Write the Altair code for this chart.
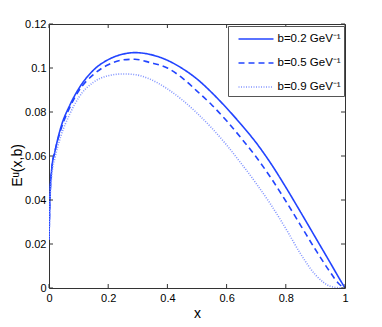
import altair as alt
import pandas as pd

# ---- data ----
x_vals = [0.0, 0.003, 0.01, 0.02, 0.04, 0.07, 0.10, 0.15, 0.20, 0.25, 0.29, 0.34,
          0.40, 0.45, 0.50, 0.55, 0.60, 0.65, 0.70, 0.75, 0.80, 0.85, 0.90, 0.95,
          0.98, 1.00]
e_b02 = [0.022, 0.040, 0.055, 0.062, 0.073, 0.083, 0.0905, 0.099, 0.1038, 0.1063,
         0.1070, 0.1062, 0.1035, 0.0998, 0.0950, 0.0888, 0.0818, 0.0742, 0.0660,
         0.0565, 0.0458, 0.0345, 0.0230, 0.0115, 0.0045, 0.0]
e_b05 = [0.022, 0.040, 0.055, 0.062, 0.072, 0.082, 0.0895, 0.0970, 0.1015, 0.1037,
         0.1040, 0.1025, 0.1000, 0.0955, 0.0895, 0.0832, 0.0760, 0.0680, 0.0595,
         0.0500, 0.0395, 0.0285, 0.0175, 0.0072, 0.0018, 0.0]
e_b09 = [0.022, 0.038, 0.052, 0.059, 0.069, 0.079, 0.0865, 0.0935, 0.0965, 0.0973,
         0.0970, 0.0950, 0.0905, 0.0855, 0.0795, 0.0727, 0.0650, 0.0565, 0.0475,
         0.0378, 0.0270, 0.0155, 0.0060, 0.0008, 0.0001, 0.0]
series_labels = ["b=0.2 GeV\u207b\u00b9", "b=0.5 GeV\u207b\u00b9", "b=0.9 GeV\u207b\u00b9"]
x_ticks = [0, 0.2, 0.4, 0.6, 0.8, 1.0]
y_ticks = [0, 0.02, 0.04, 0.06, 0.08, 0.10, 0.12]

rows = []
for lab, ys_ in zip(series_labels, [e_b02, e_b05, e_b09]):
    for xv, yv in zip(x_vals, ys_):
        rows.append({"x": xv, "E": yv, "series": lab})
df = pd.DataFrame(rows)

W, H = 296, 264
FONT = "Liberation Sans"
FRAME = "#333333"
xs = alt.Scale(domain=[0, 1], nice=False, zero=False)
ys = alt.Scale(domain=[0, 0.12], nice=False, zero=False)

leg = dict(orient="none", legendX=179, legendY=2, title=None, padding=3,
           fillColor="white", strokeColor="#555555", symbolType="M-2,0H2",
           symbolSize=306, symbolStrokeWidth=1.6, symbolOffset=15, labelFont=FONT,
           labelFontSize=11.5, labelColor="black", labelOffset=11.5, rowPadding=8)

x_axis = alt.Axis(
    values=x_ticks, labelExpr="format(datum.value, '.1~f')", title="x", ticks=False,
    domain=False, grid=False, labelFlush=False, labelFont=FONT, labelFontSize=11,
    labelColor="black", labelPadding=4, titleFont=FONT, titleFontSize=14,
    titleFontWeight="normal", titleColor="black", titleY=29,
    titleBaseline="alphabetic")
y_axis = alt.Axis(
    values=y_ticks, labelExpr="format(datum.value, '.2~f')", title="E\u1d58(x,b)",
    ticks=False, domain=False, grid=False, labelFlush=False, labelFont=FONT,
    labelFontSize=11, labelColor="black", labelPadding=3, titleFont=FONT,
    titleFontSize=14, titleFontWeight="normal", titleColor="black", titleAngle=270,
    titleX=-28, titleY=141, titleAlign="center", titleBaseline="alphabetic")

lines = alt.Chart(df).mark_line(strokeWidth=1.6, interpolate="monotone", clip=True).encode(
    x=alt.X("x:Q", scale=xs, axis=x_axis),
    y=alt.Y("E:Q", scale=ys, axis=y_axis),
    color=alt.Color("series:N", scale=alt.Scale(domain=series_labels,
                    range=["#2244ff", "#2244ff", "#8395ff"]), legend=alt.Legend(**leg)),
    strokeDash=alt.StrokeDash("series:N", scale=alt.Scale(domain=series_labels,
                    range=[[1, 0], [6, 4], [1, 1.5]]), legend=alt.Legend(**leg)),
)

xt = pd.DataFrame({"t": x_ticks})
yt = pd.DataFrame({"t": y_ticks})
tb = alt.Chart(xt).mark_rule(color=FRAME, strokeWidth=1).encode(
    x=alt.X("t:Q", scale=xs, axis=x_axis), y=alt.value(H), y2=alt.value(H - 4))
tt = alt.Chart(xt).mark_rule(color=FRAME, strokeWidth=1).encode(
    x=alt.X("t:Q", scale=xs, axis=x_axis), y=alt.value(0), y2=alt.value(4))
tl = alt.Chart(yt).mark_rule(color=FRAME, strokeWidth=1).encode(
    y=alt.Y("t:Q", scale=ys, axis=y_axis), x=alt.value(0), x2=alt.value(4))
tr = alt.Chart(yt).mark_rule(color=FRAME, strokeWidth=1).encode(
    y=alt.Y("t:Q", scale=ys, axis=y_axis), x=alt.value(W), x2=alt.value(W - 4))

chart = alt.layer(lines, tb, tt, tl, tr).properties(
    width=W, height=H,
    autosize=alt.AutoSizeParams(type="none"),
    padding={"left": 41, "top": 16, "right": 29, "bottom": 31},
    background="white",
).configure_view(stroke=FRAME, strokeWidth=1)

chart.save("out.html", embed_options={"renderer": "svg", "actions": False})
